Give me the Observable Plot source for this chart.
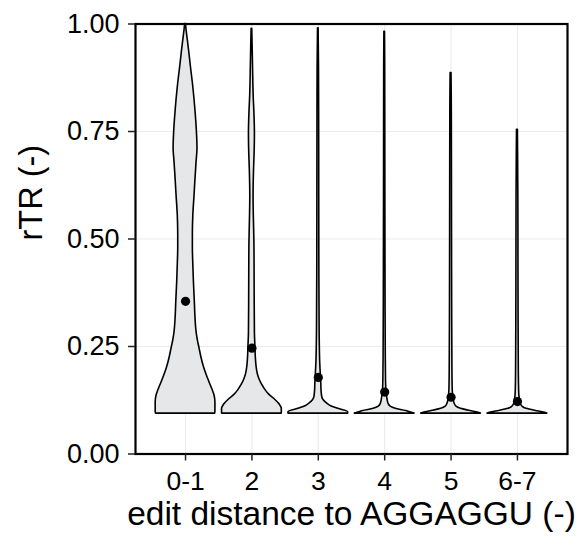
<!DOCTYPE html>
<html>
<head>
<meta charset="utf-8">
<script src="https://cdn.jsdelivr.net/npm/d3@7"></script>
<script src="https://cdn.jsdelivr.net/npm/@observablehq/plot@0.6"></script>
<style>
  html, body { margin: 0; padding: 0; background: #fff; }
</style>
</head>
<body>
<div id="chart"></div>
<script>
// Categories (x) and means (points)
const categories = ["0-1", "2", "3", "4", "5", "6-7"];
const means = [0.355, 0.246, 0.178, 0.144, 0.132, 0.122];
const yTicks = [0, 0.25, 0.5, 0.75, 1];

// Violin profiles: rTR value and relative density (max = 1)
const rtr01  = [0.094, 0.100, 0.120, 0.136, 0.150, 0.167, 0.185, 0.206, 0.225, 0.245, 0.265, 0.283, 0.320, 0.355, 0.400, 0.440, 0.480, 0.510, 0.555, 0.600, 0.636, 0.680, 0.710, 0.750, 0.800, 0.853, 0.900, 0.931, 0.960, 0.985, 1.000];
const dens01 = [0.99, 1.00, 1.00, 0.97, 0.90, 0.80, 0.70, 0.60, 0.53, 0.47, 0.41, 0.37, 0.33, 0.31, 0.28, 0.26, 0.245, 0.245, 0.26, 0.30, 0.33, 0.37, 0.40, 0.38, 0.33, 0.26, 0.18, 0.13, 0.08, 0.035, 0.013];

const rtr2  = [0.094, 0.105, 0.115, 0.128, 0.138, 0.148, 0.160, 0.171, 0.185, 0.202, 0.225, 0.250, 0.280, 0.350, 0.480, 0.600, 0.660, 0.700, 0.745, 0.790, 0.830, 0.900, 0.950, 0.989];
const dens2 = [1.00, 1.00, 0.93, 0.75, 0.58, 0.46, 0.35, 0.27, 0.20, 0.157, 0.13, 0.117, 0.10, 0.093, 0.085, 0.055, 0.07, 0.09, 0.10, 0.085, 0.06, 0.037, 0.023, 0.01];

const rtr3  = [0.094, 0.097, 0.105, 0.111, 0.117, 0.125, 0.132, 0.145, 0.163, 0.180, 0.220, 0.300, 0.500, 0.700, 0.900, 0.990];
const dens3 = [1.00, 1.00, 0.67, 0.43, 0.30, 0.18, 0.133, 0.11, 0.10, 0.087, 0.06, 0.043, 0.033, 0.03, 0.023, 0.01];

const rtr4  = [0.094, 0.097, 0.100, 0.105, 0.110, 0.117, 0.125, 0.132, 0.145, 0.170, 0.250, 0.500, 0.750, 0.900, 0.982];
const dens4 = [1.00, 0.85, 0.72, 0.37, 0.20, 0.127, 0.10, 0.083, 0.06, 0.045, 0.035, 0.025, 0.02, 0.017, 0.01];

const rtr5  = [0.094, 0.097, 0.100, 0.105, 0.110, 0.117, 0.125, 0.135, 0.150, 0.200, 0.400, 0.600, 0.800, 0.886];
const dens5 = [1.00, 0.85, 0.65, 0.33, 0.18, 0.12, 0.09, 0.07, 0.055, 0.045, 0.035, 0.03, 0.025, 0.015];

const rtr67  = [0.094, 0.097, 0.100, 0.105, 0.110, 0.117, 0.125, 0.140, 0.200, 0.400, 0.600, 0.754];
const dens67 = [1.00, 0.85, 0.62, 0.30, 0.17, 0.11, 0.085, 0.06, 0.045, 0.035, 0.03, 0.015];

const profiles = [[rtr01, dens01], [rtr2, dens2], [rtr3, dens3], [rtr4, dens4], [rtr5, dens5], [rtr67, dens67]];
const violinWidth = 0.9; // ggplot default: max full width in category units

const violins = profiles.flatMap(([vals, dens], i) =>
  vals.map((v, j) => ({cat: categories[i], idx: i, v, d: dens[j]}))
);
const meanPts = means.map((m, i) => ({cat: categories[i], idx: i, m}));
const idxs = categories.map((_, i) => i);

const plot = Plot.plot({
  width: 585,
  height: 536,
  marginLeft: 135,
  marginRight: 18,
  marginTop: 23.5,
  marginBottom: 82.5,
  style: {fontFamily: "'Liberation Sans', Arial, sans-serif", fontSize: "27px", color: "black", background: "white"},
  x: {type: "linear", domain: [-0.754, categories.length - 1 + 0.754]},
  y: {domain: [0, 1]},
  marks: [
    Plot.gridY(yTicks, {stroke: "#ebebeb", strokeOpacity: 1, strokeWidth: 1.1}),
    Plot.gridX(idxs, {stroke: "#ebebeb", strokeOpacity: 1, strokeWidth: 1.1}),
    Plot.areaX(violins, {
      y: "v",
      x1: d => d.idx - d.d * violinWidth / 2,
      x2: d => d.idx + d.d * violinWidth / 2,
      z: "cat",
      fill: "#e6e7e8",
      stroke: "black",
      strokeWidth: 1.6,
      curve: "monotone-y"
    }),
    Plot.dot(meanPts, {x: "idx", y: "m", r: 4.6, fill: "black", stroke: "none"}),
    Plot.frame({stroke: "black", strokeWidth: 2.2}),
    Plot.axisY({ticks: yTicks, tickFormat: d3.format(".2f"), tickSize: 7, tickPadding: 9, label: null, fontSize: 27, strokeWidth: 1.5, stroke: "#222", fill: "black"}),
    Plot.axisX({ticks: idxs, tickFormat: i => categories[i], tickSize: 7, tickPadding: 10, label: null, fontSize: 26.5, strokeWidth: 1.5, stroke: "#222", fill: "black"}),
    Plot.text(["edit distance to AGGAGGU (-)"], {frameAnchor: "bottom", dy: 71, fontSize: 33.5, fill: "black"}),
    Plot.text(["rTR (-)"], {frameAnchor: "left", dx: -103.7, dy: 1.5, rotate: -90, fontSize: 32.5, fill: "black"})
  ]
});

document.getElementById("chart").appendChild(plot);
</script>
</body>
</html>
